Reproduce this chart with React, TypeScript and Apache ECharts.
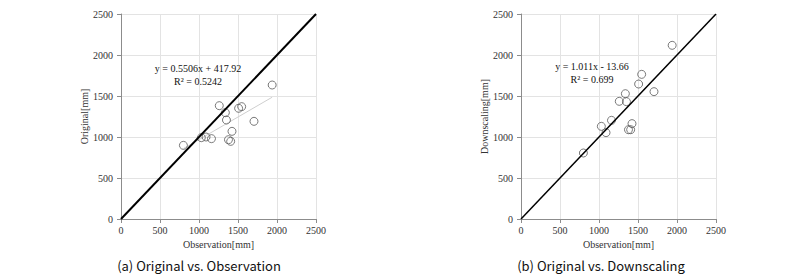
import React, { useEffect, useRef } from "react";
import * as echarts from "echarts";

// Observation values [mm] (shared x for both panels)
const observation = [800, 1030, 1090, 1160, 1260, 1338, 1352, 1378, 1406, 1423, 1508, 1547, 1705, 1938];
// Original model values [mm]
const original = [898, 992, 1000, 980, 1382, 1297, 1207, 967, 947, 1069, 1350, 1370, 1191, 1634];
// Downscaled values [mm]
const downscaling = [805, 1130, 1053, 1203, 1435, 1528, 1431, 1089, 1089, 1163, 1646, 1764, 1553, 2118];

const axisTicks = [0, 500, 1000, 1500, 2000, 2500];
const trendOriginal = { slope: 0.5506, intercept: 417.92, r2: "0.5242" };
const trendDownscaling = { slope: 1.011, intercept: -13.66, r2: "0.699" };
const captions = ["(a) Original vs. Observation", "(b) Original vs. Downscaling"];
const yNames = ["Original[mm]", "Downscaling[mm]"];
const xName = "Observation[mm]";

const SERIF = "Liberation Serif";
const SANS = "Noto Sans CJK KR";

function pairs(xs: number[], ys: number[]) {
  return xs.map((x, i) => [x, ys[i]]);
}

function trendEnds(t: { slope: number; intercept: number }, xs: number[]) {
  const lo = Math.min(...xs);
  const hi = Math.max(...xs);
  return [
    [lo, t.slope * lo + t.intercept],
    [hi, t.slope * hi + t.intercept],
  ];
}

function fmtEq(t: { slope: number; intercept: number }) {
  const sign = t.intercept < 0 ? "-" : "+";
  return `y = ${t.slope}x ${sign} ${Math.abs(t.intercept)}`;
}

export default function App() {
  const ref = useRef<HTMLDivElement>(null);
  useEffect(() => {
    if (!ref.current) return;
    const chart = echarts.init(ref.current, undefined, { renderer: "svg" });
    const lefts = [121, 521];
    const axisMax = axisTicks[axisTicks.length - 1];
    const grids = lefts.map((l) => ({ left: l, top: 14, width: 195, height: 205 }));
    const labelFmt = (v: number) => `{s|${v}}`;
    const labelRich = { s: { fontFamily: SERIF, fontSize: 10, color: "#333" } };
    const mkX = (gi: number) => ({
      type: "value",
      gridIndex: gi,
      min: 0,
      max: axisMax,
      interval: 500,
      name: xName,
      nameLocation: "middle",
      nameGap: 19,
      nameTextStyle: { fontFamily: SERIF, fontSize: 10, color: "#333" },
      axisLine: { show: true, lineStyle: { color: "#8c8c8c", width: 1 } },
      axisTick: { show: true, length: 4, lineStyle: { color: "#8c8c8c" } },
      axisLabel: { fontFamily: SERIF, fontSize: 10, color: "#333", margin: 6, formatter: labelFmt, rich: labelRich },
      splitLine: { show: true, lineStyle: { color: "#e3e3e3", width: 1 } },
    });
    const mkY = (gi: number) => ({
      type: "value",
      gridIndex: gi,
      min: 0,
      max: axisMax,
      interval: 500,
      name: yNames[gi],
      nameLocation: "middle",
      nameGap: 31,
      nameRotate: 90,
      nameTextStyle: { fontFamily: SERIF, fontSize: 10, color: "#333" },
      axisLine: { show: true, lineStyle: { color: "#8c8c8c", width: 1 } },
      axisTick: { show: true, length: 4, lineStyle: { color: "#8c8c8c" } },
      axisLabel: { fontFamily: SERIF, fontSize: 10, color: "#333", margin: 8, formatter: labelFmt, rich: labelRich },
      splitLine: { show: true, lineStyle: { color: "#e3e3e3", width: 1 } },
    });
    const scatterStyle = {
      type: "scatter",
      symbol: "circle",
      symbolSize: 8,
      itemStyle: { color: "rgba(255,255,255,0)", borderColor: "#595959", borderWidth: 1 },
      z: 3,
    };
    const eqTexts = [
      { t: trendOriginal, cx: 198, y1: 68, y2: 81 },
      { t: trendDownscaling, cx: 592, y1: 66, y2: 79 },
    ];
    const graphic: any[] = [];
    eqTexts.forEach((e) => {
      graphic.push({
        type: "text",
        x: e.cx,
        y: e.y1,
        style: { text: fmtEq(e.t), fontFamily: SERIF, fontSize: 10, fill: "#111", align: "center", verticalAlign: "middle" },
        z: 10,
      });
      graphic.push({
        type: "text",
        x: e.cx,
        y: e.y2,
        style: { text: `R² = ${e.t.r2}`, fontFamily: SERIF, fontSize: 10, fill: "#111", align: "center", verticalAlign: "middle" },
        z: 10,
      });
    });
    [199, 601].forEach((cx, i) => {
      graphic.push({
        type: "text",
        x: cx,
        y: 265,
        style: { text: captions[i], fontFamily: SANS, fontSize: 13, fill: "#111", align: "center", verticalAlign: "middle" },
      });
    });

    chart.setOption({
      animation: false,
      backgroundColor: "#ffffff",
      textStyle: { fontFamily: SERIF },
      grid: grids,
      xAxis: [mkX(0), mkX(1)],
      yAxis: [mkY(0), mkY(1)],
      series: [
        {
          type: "line",
          xAxisIndex: 0,
          yAxisIndex: 0,
          data: trendEnds(trendOriginal, observation),
          symbol: "none",
          lineStyle: { color: "#cfcfcf", width: 1 },
          z: 2,
        },
        {
          type: "line",
          xAxisIndex: 0,
          yAxisIndex: 0,
          data: [[0, 0], [axisMax, axisMax]],
          symbol: "none",
          lineStyle: { color: "#000", width: 2 },
          z: 4,
        },
        { ...scatterStyle, xAxisIndex: 0, yAxisIndex: 0, data: pairs(observation, original) },
        {
          type: "line",
          xAxisIndex: 1,
          yAxisIndex: 1,
          data: [[0, 0], [axisMax, axisMax]],
          symbol: "none",
          lineStyle: { color: "#000", width: 1.5 },
          z: 4,
        },
        {
          type: "line",
          xAxisIndex: 1,
          yAxisIndex: 1,
          data: trendEnds(trendDownscaling, observation),
          symbol: "none",
          lineStyle: { color: "#cfcfcf", width: 1 },
          z: 2,
        },
        { ...scatterStyle, xAxisIndex: 1, yAxisIndex: 1, data: pairs(observation, downscaling) },
      ],
      graphic,
    });
    return () => chart.dispose();
  }, []);
  return (
    <div
      ref={ref}
      style={{ position: "absolute", left: 0, top: 0, width: 800, height: 274, background: "#fff" }}
    />
  );
}
